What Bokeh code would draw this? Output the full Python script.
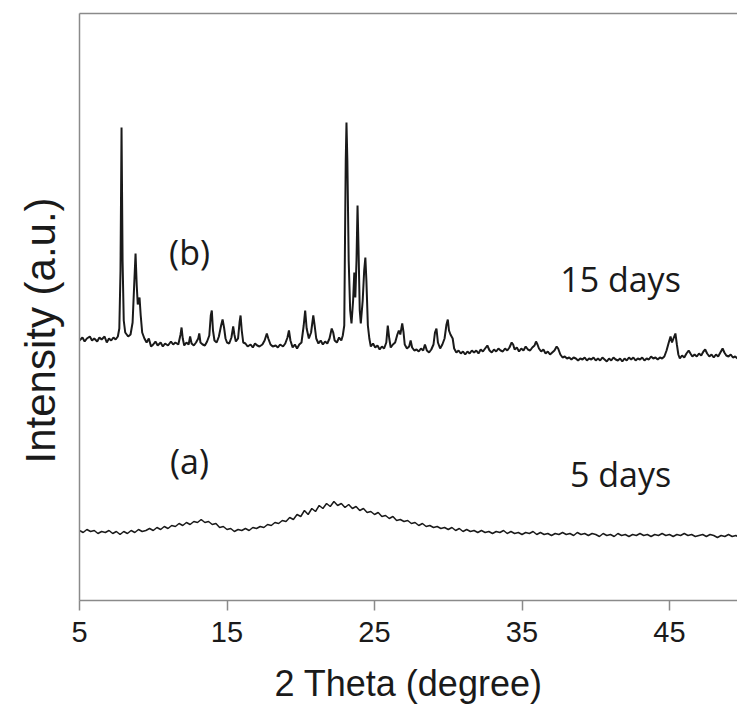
from bokeh.plotting import figure
from bokeh.models import Range1d, FixedTicker, LinearAxis, Label, Title
from bokeh.embed import file_html
from bokeh.resources import INLINE

# ---------------- data ----------------
x_ticks = [5, 15, 25, 35, 45]

# (b) 15 days sample
b_theta = [
    5.0, 5.2, 5.35, 5.5, 5.7, 5.85, 6.0, 6.2, 6.35, 6.5,
    6.7, 6.85, 7.0, 7.15, 7.3, 7.45, 7.6, 7.7, 7.78, 7.85,
    7.92, 8.0, 8.1, 8.3, 8.46, 8.6, 8.72, 8.8, 8.88, 8.95,
    9.07, 9.15, 9.25, 9.4, 9.55, 9.7, 9.85, 10.0, 10.15, 10.3,
    10.5, 10.65, 10.8, 11.0, 11.2, 11.35, 11.5, 11.7, 11.85, 11.92,
    12.0, 12.1, 12.25, 12.4, 12.5, 12.6, 12.75, 12.9, 13.05, 13.12,
    13.2, 13.35, 13.5, 13.65, 13.8, 13.9, 13.97, 14.05, 14.15, 14.3,
    14.45, 14.6, 14.7, 14.8, 14.9, 15.0, 15.15, 15.3, 15.42, 15.5,
    15.6, 15.75, 15.85, 15.92, 16.0, 16.1, 16.25, 16.4, 16.6, 16.75,
    16.9, 17.05, 17.2, 17.4, 17.55, 17.7, 17.8, 17.95, 18.1, 18.3,
    18.45, 18.6, 18.8, 18.95, 19.1, 19.2, 19.3, 19.45, 19.6, 19.75,
    19.9, 20.05, 20.2, 20.3, 20.4, 20.55, 20.7, 20.85, 20.95, 21.05,
    21.2, 21.35, 21.5, 21.65, 21.8, 21.95, 22.1, 22.2, 22.3, 22.45,
    22.6, 22.75, 22.85, 22.95, 23.0, 23.05, 23.1, 23.16, 23.25, 23.35,
    23.44, 23.55, 23.63, 23.7, 23.78, 23.85, 23.92, 24.0, 24.07, 24.2,
    24.3, 24.38, 24.45, 24.55, 24.65, 24.75, 24.9, 25.05, 25.2, 25.35,
    25.5, 25.65, 25.8, 25.9, 26.0, 26.1, 26.25, 26.4, 26.55, 26.65,
    26.75, 26.88, 26.97, 27.05, 27.2, 27.35, 27.45, 27.55, 27.7, 27.85,
    28.0, 28.15, 28.3, 28.42, 28.55, 28.7, 28.85, 29.0, 29.1, 29.2,
    29.3, 29.45, 29.6, 29.75, 29.88, 29.97, 30.05, 30.15, 30.3, 30.4,
    30.55, 30.7, 30.85, 31.0, 31.15, 31.3, 31.45, 31.6, 31.75, 31.9,
    32.05, 32.2, 32.35, 32.5, 32.65, 32.8, 32.95, 33.1, 33.25, 33.4,
    33.55, 33.7, 33.85, 34.0, 34.15, 34.3, 34.4, 34.5, 34.65, 34.8,
    34.95, 35.1, 35.25, 35.4, 35.55, 35.7, 35.85, 35.95, 36.05, 36.15,
    36.3, 36.45, 36.6, 36.75, 36.9, 37.05, 37.2, 37.35, 37.45, 37.6,
    37.75, 37.9, 38.05, 38.2, 38.35, 38.5, 38.65, 38.8, 38.95, 39.1,
    39.25, 39.4, 39.55, 39.7, 39.85, 40.0, 40.15, 40.3, 40.45, 40.6,
    40.75, 40.9, 41.05, 41.2, 41.35, 41.5, 41.65, 41.8, 41.95, 42.1,
    42.25, 42.4, 42.55, 42.7, 42.85, 43.0, 43.15, 43.3, 43.45, 43.6,
    43.75, 43.9, 44.05, 44.2, 44.35, 44.5, 44.65, 44.8, 44.95, 45.07,
    45.17, 45.27, 45.4, 45.5, 45.6, 45.7, 45.85, 46.0, 46.15, 46.3,
    46.42, 46.55, 46.7, 46.85, 47.0, 47.15, 47.3, 47.42, 47.55, 47.7,
    47.85, 48.0, 48.15, 48.3, 48.45, 48.6, 48.72, 48.85, 49.0, 49.15,
    49.3, 49.45, 49.61,
]
b_intensity = [
    260, 263, 259, 262, 264, 260, 262, 259, 263, 261,
    264, 258, 262, 260, 263, 261, 264, 272, 330, 473,
    340, 280, 268, 264, 266, 278, 320, 347, 315, 296,
    303, 285, 268, 262, 258, 262, 254, 256, 259, 255,
    258, 254, 257, 255, 259, 256, 258, 256, 266, 273,
    262, 255, 258, 256, 264, 257, 255, 258, 262, 267,
    258, 256, 255, 259, 265, 285, 290, 270, 260, 258,
    264, 275, 281, 273, 262, 258, 257, 263, 274, 266,
    259, 262, 278, 285, 270, 258, 257, 254, 256, 253,
    257, 255, 254, 256, 260, 267, 262, 256, 254, 255,
    253, 256, 254, 257, 263, 270, 260, 253, 256, 252,
    256, 258, 275, 290, 272, 262, 268, 285, 274, 262,
    257, 260, 256, 259, 257, 262, 272, 268, 260, 258,
    263, 260, 265, 275, 360, 440, 478, 440, 340, 290,
    277, 300, 328, 303, 340, 395, 350, 290, 277, 300,
    330, 343, 320, 275, 262, 254, 257, 253, 255, 251,
    254, 252, 258, 275, 262, 253, 256, 258, 266, 270,
    266, 277, 268, 256, 252, 254, 260, 253, 250, 251,
    249, 252, 250, 256, 250, 248, 251, 256, 268, 272,
    258, 252, 256, 262, 276, 281, 270, 266, 262, 252,
    248, 250, 247, 249, 246, 249, 247, 250, 248, 250,
    247, 251, 249, 252, 255, 250, 248, 251, 249, 252,
    250, 249, 252, 250, 253, 258, 256, 251, 253, 249,
    252, 250, 254, 251, 250, 253, 255, 259, 256, 252,
    249, 251, 247, 249, 246, 248, 250, 254, 252, 246,
    243, 244, 242, 243, 241, 243, 242, 240, 242, 241,
    243, 240, 242, 241, 243, 240, 242, 240, 243, 241,
    239, 242, 240, 243, 241, 240, 242, 239, 242, 240,
    243, 241, 243, 240, 242, 241, 243, 240, 242, 241,
    244, 242, 243, 241, 243, 242, 244, 250, 258, 264,
    258, 262, 267, 256, 246, 242, 245, 243, 247, 250,
    247, 244, 246, 244, 247, 245, 249, 251, 247, 244,
    246, 243, 246, 244, 248, 252, 248, 245, 244, 246,
    243, 244, 242,
]

# (a) 5 days sample
a_theta = [
    5.0, 5.25, 5.5, 5.75, 6.0, 6.25, 6.5, 6.75, 7.0, 7.25,
    7.5, 7.75, 8.0, 8.25, 8.5, 8.75, 9.0, 9.25, 9.5, 9.75,
    10.0, 10.25, 10.5, 10.75, 11.0, 11.25, 11.5, 11.75, 12.0, 12.25,
    12.5, 12.75, 13.0, 13.25, 13.5, 13.75, 14.0, 14.25, 14.5, 14.75,
    15.0, 15.25, 15.5, 15.75, 16.0, 16.25, 16.5, 16.75, 17.0, 17.25,
    17.5, 17.75, 18.0, 18.25, 18.5, 18.75, 19.0, 19.25, 19.5, 19.75,
    20.0, 20.25, 20.5, 20.75, 21.0, 21.25, 21.5, 21.75, 22.0, 22.25,
    22.5, 22.75, 23.0, 23.25, 23.5, 23.75, 24.0, 24.25, 24.5, 24.75,
    25.0, 25.25, 25.5, 25.75, 26.0, 26.25, 26.5, 26.75, 27.0, 27.25,
    27.5, 27.75, 28.0, 28.25, 28.5, 28.75, 29.0, 29.25, 29.5, 29.75,
    30.0, 30.25, 30.5, 30.75, 31.0, 31.25, 31.5, 31.75, 32.0, 32.25,
    32.5, 32.75, 33.0, 33.25, 33.5, 33.75, 34.0, 34.25, 34.5, 34.75,
    35.0, 35.25, 35.5, 35.75, 36.0, 36.25, 36.5, 36.75, 37.0, 37.25,
    37.5, 37.75, 38.0, 38.25, 38.5, 38.75, 39.0, 39.25, 39.5, 39.75,
    40.0, 40.25, 40.5, 40.75, 41.0, 41.25, 41.5, 41.75, 42.0, 42.25,
    42.5, 42.75, 43.0, 43.25, 43.5, 43.75, 44.0, 44.25, 44.5, 44.75,
    45.0, 45.25, 45.5, 45.75, 46.0, 46.25, 46.5, 46.75, 47.0, 47.25,
    47.5, 47.75, 48.0, 48.25, 48.5, 48.75, 49.0, 49.25, 49.5, 49.61,
]
a_intensity = [
    70, 68, 71, 69, 70, 67, 69, 68, 70, 67,
    69, 66, 69, 67, 70, 68, 71, 69, 70, 72,
    70, 73, 71, 74, 72, 75, 74, 77, 75, 78,
    76, 79, 78, 81, 78, 79, 76, 77, 73, 74,
    71, 72, 69, 71, 70, 72, 70, 73, 72, 74,
    73, 76, 75, 78, 77, 80, 79, 83, 81, 86,
    84, 90, 86, 92, 89, 95, 92, 97, 94, 99,
    95, 97, 93, 96, 92, 94, 90, 92, 88, 89,
    86, 88, 84, 85, 82, 84, 80, 81, 79, 80,
    77, 78, 75, 77, 74, 75, 73, 74, 72, 73,
    71, 73, 70, 72, 69, 71, 69, 70, 68, 70,
    68, 69, 67, 69, 68, 70, 67, 69, 67, 68,
    66, 68, 67, 69, 66, 68, 66, 67, 65, 67,
    66, 68, 66, 67, 65, 68, 66, 67, 65, 67,
    66, 64, 67, 65, 66, 64, 67, 65, 66, 64,
    66, 65, 67, 65, 66, 64, 66, 65, 67, 65,
    66, 64, 66, 65, 67, 65, 66, 64, 65, 66,
    64, 66, 65, 63, 65, 64, 66, 64, 65, 64,
]

# ---------------- figure ----------------
AXIS_GREY = "#8a8a8a"
INK = "#1a1a1a"

p = figure(width=737, height=709,
           x_range=Range1d(5, 49.61), y_range=Range1d(0, 587),
           output_backend="svg", toolbar_location=None,
           min_border_left=79, min_border_right=0,
           min_border_top=13, min_border_bottom=109)
p.background_fill_color = "white"
p.border_fill_color = "white"
p.outline_line_color = None
p.grid.visible = False

p.line(b_theta, b_intensity, line_color=INK, line_width=2.0)
p.line(a_theta, a_intensity, line_color=INK, line_width=1.5)

# x axis
xa = p.xaxis[0]
xa.ticker = FixedTicker(ticks=x_ticks)
xa.axis_line_color = AXIS_GREY
xa.axis_line_width = 1.5
xa.major_tick_line_color = AXIS_GREY
xa.major_tick_line_width = 1.5
xa.major_tick_in = 0
xa.major_tick_out = 10
xa.minor_tick_line_color = None
xa.major_label_text_font = "Liberation Sans"
xa.major_label_text_font_size = "29px"
xa.major_label_text_color = INK
xa.major_label_standoff = 11
xa.axis_label = "2 Theta (degree)"
xa.axis_label_text_font = "Liberation Sans"
xa.axis_label_text_font_size = "36px"
xa.axis_label_text_font_style = "normal"
xa.axis_label_text_color = INK
xa.axis_label_standoff = 18

# y axis (no ticks)
ya = p.yaxis[0]
ya.ticker = FixedTicker(ticks=[])
ya.axis_line_color = AXIS_GREY
ya.axis_line_width = 1.5
ya.major_tick_in = 0
ya.major_tick_out = 0
ya.minor_tick_line_color = None
ya.major_label_standoff = 0

# y title as a side title (bottom-aligned, shifted up)
ytitle = Title(text="Intensity (a.u.)", align="left", offset=137,
               vertical_align="middle",
               text_font="Liberation Sans", text_font_size="42px",
               text_font_style="normal", text_color=INK, standoff=30)
p.add_layout(ytitle, "left")

# top frame line
top = LinearAxis(ticker=FixedTicker(ticks=[]))
top.axis_line_color = AXIS_GREY
top.axis_line_width = 1.5
top.major_tick_in = 0
top.major_tick_out = 0
top.minor_tick_line_color = None
top.major_label_standoff = 0
p.add_layout(top, "above")

# annotations
lbl_style = dict(text_font="Open Sans", text_color=INK, text_align="center",
                 text_baseline="alphabetic")
p.add_layout(Label(x=12.46, y=349, text="(b)", text_font_size="34px", **lbl_style))
p.add_layout(Label(x=12.46, y=140, text="(a)", text_font_size="34px", **lbl_style))
p.add_layout(Label(x=41.68, y=322, text="15 days", text_font_size="34px", **lbl_style))
p.add_layout(Label(x=41.68, y=127, text="5 days", text_font_size="34px", **lbl_style))

open("out.html", "w").write(file_html(p, INLINE))
